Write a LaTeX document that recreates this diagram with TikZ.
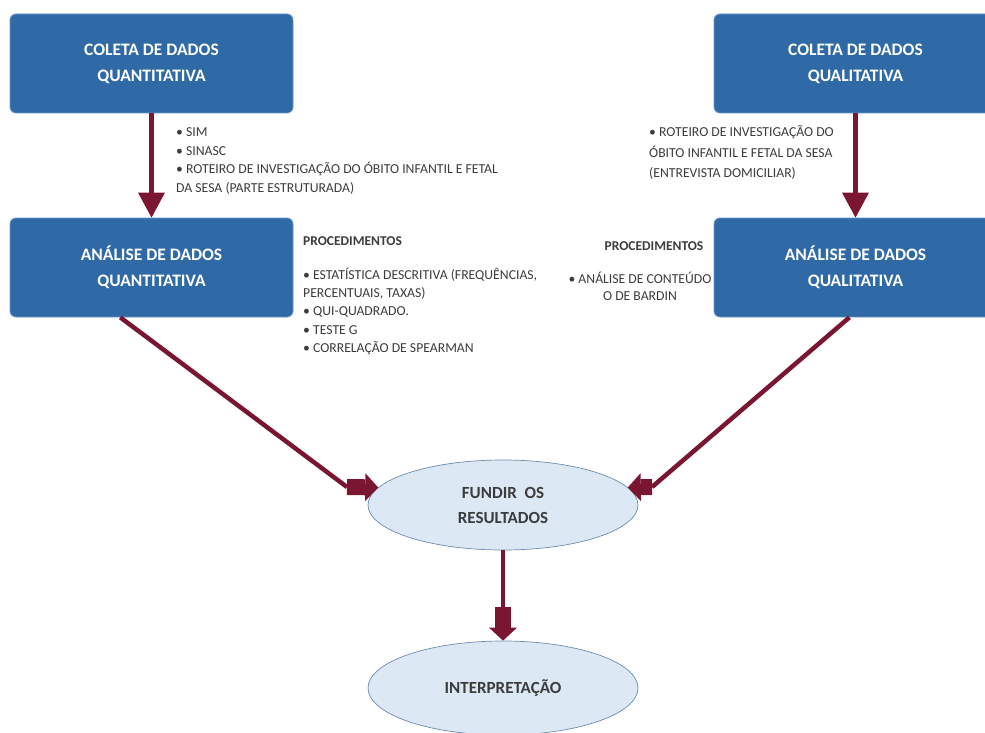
\documentclass[tikz,border=0pt]{standalone}
\usepackage{fontspec}
\setmainfont{Carlito}
\usepackage{tikz}
\usetikzlibrary{calc}
\usetikzlibrary{arrows.meta}
\usetikzlibrary{shapes.geometric}
\definecolor{boxblue}{RGB}{47,106,166}
\definecolor{boxedge}{RGB}{100,150,200}
\definecolor{arrowred}{RGB}{122,22,50}
\definecolor{ovalfill}{RGB}{220,233,245}
\definecolor{ovaledge}{RGB}{110,140,170}
\definecolor{notegray}{RGB}{60,60,60}
\tikzset{
   databox/.style={draw=boxedge, line width=0.8pt, fill=boxblue,
      rounded corners=6pt, minimum width=283pt, minimum height=99pt,
      inner sep=0pt, text=white, align=center,
      font=\fontsize{17.5}{26}\selectfont\bfseries},
   mergeshape/.style={ellipse, draw=ovaledge, line width=0.7pt, fill=ovalfill,
      minimum width=270pt, minimum height=90pt, inner sep=0pt,
      text=notegray, align=center,
      font=\fontsize{17}{25}\selectfont\bfseries},
   flowline/.style={draw=arrowred, line width=4.5pt},
   flow/.style={flowline,
      -{Triangle[width=27pt, length=25pt, line width=0pt]}},
   blockarrow/.style={draw=arrowred, line width=16pt,
      -{Triangle[width=28pt, length=13pt, line width=0pt]}},
   notetext/.style={inner sep=0pt, text=notegray, align=left,
      font=\fontsize{13.7}{18.5}\selectfont},
   notehead/.style={inner sep=0pt, text=notegray,
      font=\fontsize{13.5}{15}\selectfont\bfseries},
}

\begin{document}
\begin{tikzpicture}[x=1pt, y=-1pt]
            \useasboundingbox (0,0) rectangle (985,733);
            \clip (0,0) rectangle (985,733);
            % boxes
            \node[databox] (cquant) at (151.5,63.5) {COLETA DE DADOS\\QUANTITATIVA};
            \node[databox] (cqual) at (855.5,63.5) {COLETA DE DADOS\\QUALITATIVA};
            \node[databox] (aquant) at (151.5,267.5) {ANÁLISE DE DADOS\\QUANTITATIVA};
            \node[databox] (aqual) at (855.5,267.5) {ANÁLISE DE DADOS\\QUALITATIVA};
            \node[mergeshape] (fundir) at (503,505) {FUNDIR~~OS\\RESULTADOS};
            \node[mergeshape, minimum height=94pt] (interp) at (503,688) {INTERPRETAÇÃO};
            % notes
            \node[notetext, anchor=north west] (qtsrc) at (176,127.5)
               {• SIM\\• SINASC\\• ROTEIRO DE INVESTIGAÇÃO DO ÓBITO INFANTIL E FETAL\\DA SESA (PARTE ESTRUTURADA)};
            \node[notetext, anchor=north west, font=\fontsize{13.7}{20.5}\selectfont] (qlsrc) at (649,125.5)
               {• ROTEIRO DE INVESTIGAÇÃO DO\\ÓBITO INFANTIL E FETAL DA SESA\\(ENTREVISTA DOMICILIAR)};
            \node[notehead, anchor=north west] (qtproc) at (303,236) {PROCEDIMENTOS};
            \node[notetext, anchor=north west, font=\fontsize{13.7}{18.3}\selectfont] (qtlist) at (303,267.5)
               {• ESTATÍSTICA DESCRITIVA (FREQUÊNCIAS,\\PERCENTUAIS, TAXAS)\\• QUI-QUADRADO.\\• TESTE G\\• CORRELAÇÃO DE SPEARMAN};
            \node[notehead] (qlproc) at (654,246) {PROCEDIMENTOS};
            \node[notetext, align=center, anchor=north, font=\fontsize{13.7}{17}\selectfont] (qllist) at (640,272)
               {• ANÁLISE DE CONTEÚDO\\O DE BARDIN};
            % arrows
            \coordinate (qtin) at (347,487);
            \coordinate (qlin) at (652,487);
            \coordinate (mergeout) at (503,607);
            \draw[flow] (cquant) -- (aquant);
            \draw[flow] (cqual) -- (aqual);
            \draw[flowline] (aquant.238) -- (qtin);
            \draw[blockarrow] (qtin) -- (fundir.172);
            \draw[flowline] (aqual.263) -- (qlin);
            \draw[blockarrow] (qlin) -- (fundir.8);
            \draw[flowline] (fundir) -- (mergeout);
            \draw[blockarrow] (mergeout) -- (interp);
\end{tikzpicture}
\end{document}
